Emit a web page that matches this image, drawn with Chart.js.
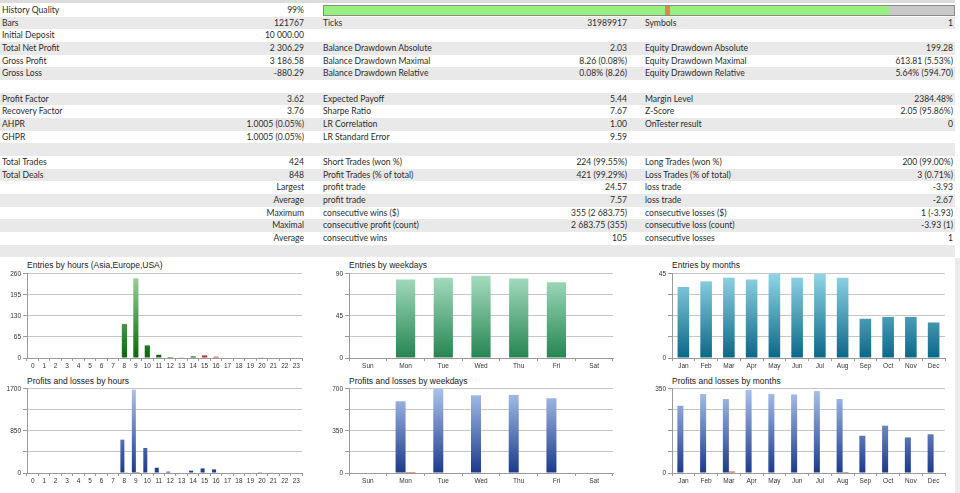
<!DOCTYPE html>
<html>
<head>
<meta charset="utf-8">
<script src="https://cdn.jsdelivr.net/npm/chart.js@4/dist/chart.umd.min.js"></script>
<style>
  html, body { margin: 0; padding: 0; background: #fff; }
  body { width: 960px; height: 493px; position: relative; overflow: hidden; font-family: "Lato", "Noto Sans", sans-serif; color: #2c2c2c; }
  .row { position: absolute; left: 0; width: 955px; height: 12.67px; line-height: 12.67px; font-size: 8.6px; }
  .row span { position: absolute; top: 0; white-space: nowrap; }
  .l1 { left: 2px; } .v1 { right: 651px; }
  .l2 { left: 323px; } .v2 { right: 328px; }
  .l3 { left: 645px; } .v3 { right: 2px; }
  .b { font-weight: 700; }
  .title { position: absolute; font: 8.5px "Liberation Sans", Arial, sans-serif; color: #222; white-space: nowrap; }
  canvas { position: absolute; }
</style>
</head>
<body>
<div id="report"></div>
<div class="title" style="left:27px;top:260px">Entries by hours (Asia,Europe,USA)</div>
<div class="title" style="left:349px;top:260px">Entries by weekdays</div>
<div class="title" style="left:672px;top:260px">Entries by months</div>
<div class="title" style="left:27px;top:376px">Profits and losses by hours</div>
<div class="title" style="left:349px;top:376px">Profits and losses by weekdays</div>
<div class="title" style="left:672px;top:376px">Profits and losses by months</div>
<canvas id="c1" width="310" height="106" style="left:0;top:268px"></canvas>
<canvas id="c2" width="300" height="106" style="left:322px;top:268px"></canvas>
<canvas id="c3" width="311" height="106" style="left:644px;top:268px"></canvas>
<canvas id="c4" width="310" height="106" style="left:0;top:383px"></canvas>
<canvas id="c5" width="300" height="106" style="left:322px;top:383px"></canvas>
<canvas id="c6" width="311" height="106" style="left:644px;top:383px"></canvas>
<script>
// categories
const hours = ["0","1","2","3","4","5","6","7","8","9","10","11","12","13","14","15","16","17","18","19","20","21","22","23"];
const weekdays = ["Sun","Mon","Tue","Wed","Thu","Fri","Sat"];
const months = ["Jan","Feb","Mar","Apr","May","Jun","Jul","Aug","Sep","Oct","Nov","Dec"];

// entries
const entriesHourEurope = [0,0,0,0,0,0,0,0,105,246,39,10,3,2,5,0,0,0,0,0,0,0,0,0];
const entriesHourUsa    = [0,0,0,0,0,0,0,0,0,0,0,0,0,0,0,8,4,0,0,0,2,0,0,0];
const entriesWeekday = [0,84,86,88,85,81,0];
const entriesMonth = [38,41,43,42,45,43,45,43,21,22,22,19];

// profits and losses
const profitHour = [0,0,0,0,0,10,0,0,674,1686,506,107,27,0,47,93,73,10,0,0,15,12,0,0];
const lossHour   = [0,0,0,0,0,0,0,0,6,2,0,0,0,0,0,0,0,0,0,0,0,0,0,0];
const profitWeekday = [0,597,700,647,650,622,0];
const lossWeekday   = [0,8,0,4,0,0,0];
const profitMonth = [280,329,308,346,329,327,341,308,155,197,148,161];
const lossMonth   = [0,0,6,0,0,0,0,4,0,0,0,0];

// axis ticks: [max, grid step, labelled step]
const ticksEntriesHour = [260, 32.5, 65];
const ticksEntriesWeekday = [90, 11.25, 45];
const ticksEntriesMonth = [45, 5.625, 45];
const ticksProfitHour = [1700, 212.5, 850];
const ticksProfitWeekday = [700, 87.5, 350];
const ticksProfitMonth = [350, 43.75, 350];

// report table
const reportRows = [
  ["History Quality", "99%", null, null, null, null],
  ["Bars", "121767", "Ticks", "31989917", "Symbols", "1"],
  ["Initial Deposit", "10 000.00", "", "", "", ""],
  ["Total Net Profit", "2 306.29", "Balance Drawdown Absolute", "2.03", "Equity Drawdown Absolute", "199.28"],
  ["Gross Profit", "3 186.58", "Balance Drawdown Maximal", "8.26 (0.08%)", "Equity Drawdown Maximal", "613.81 (5.53%)"],
  ["Gross Loss", "-880.29", "Balance Drawdown Relative", "0.08% (8.26)", "Equity Drawdown Relative", "5.64% (594.70)"],
  ["", "", "", "", "", ""],
  ["Profit Factor", "3.62", "Expected Payoff", "5.44", "Margin Level", "2384.48%"],
  ["Recovery Factor", "3.76", "Sharpe Ratio", "7.67", "Z-Score", "2.05 (95.86%)"],
  ["AHPR", "1.0005 (0.05%)", "LR Correlation", "1.00", "OnTester result", "0"],
  ["GHPR", "1.0005 (0.05%)", "LR Standard Error", "9.59", "", ""],
  ["", "", "", "", "", ""],
  ["Total Trades", "424", "Short Trades (won %)", "224 (99.55%)", "Long Trades (won %)", "200 (99.00%)"],
  ["Total Deals", "848", "Profit Trades (% of total)", "421 (99.29%)", "Loss Trades (% of total)", "3 (0.71%)"],
  ["", "Largest", "profit trade", "24.57", "loss trade", "-3.93"],
  ["", "Average", "profit trade", "7.57", "loss trade", "-2.67"],
  ["", "Maximum", "consecutive wins ($)", "355 (2 683.75)", "consecutive losses ($)", "1 (-3.93)"],
  ["", "Maximal", "consecutive profit (count)", "2 683.75 (355)", "consecutive loss (count)", "-3.93 (1)"],
  ["", "Average", "consecutive wins", "105", "consecutive losses", "1"],
  ["", "", "", "", "", ""]
];

function buildReport() {
  const report = document.getElementById("report");
  const top = document.createElement("div");
  top.style.cssText = "position:absolute;left:0;top:0;width:955px;height:3px;background:#dcdcdc";
  report.appendChild(top);
  reportRows.forEach((r, i) => {
    const row = document.createElement("div");
    row.className = "row";
    row.style.top = (4 + i * 12.67) + "px";
    row.style.background = i % 2 ? "#e9e9e9" : "#fff";
    const cls = ["l1", "v1", "l2", "v2", "l3", "v3"];
    r.forEach((t, k) => {
      if (t === null || t === "") return;
      const s = document.createElement("span");
      s.className = cls[k];
      s.textContent = t;
      row.appendChild(s);
    });
    if (i === 0) {
      const bar = document.createElement("div");
      bar.style.cssText = "position:absolute;left:323px;top:1px;width:630px;height:9px;border:1px solid #8a8a8a;" +
        "background:linear-gradient(to right,#96ef7f 0,#96ef7f 341px,#d98a4a 341px,#d98a4a 346px,#96ef7f 346px,#96ef7f 565px,#c8c8c8 565px,#c8c8c8 100%)";
      row.appendChild(bar);
    }
    report.appendChild(row);
  });
  const strip = document.createElement("div");
  strip.style.cssText = "position:absolute;left:955px;top:258px;width:5px;height:235px;background:#ececec";
  report.appendChild(strip);
}

function grad(topColor, bottomColor) {
  return ctx => {
    const area = ctx.chart.chartArea;
    if (!area) return bottomColor;
    const g = ctx.chart.ctx.createLinearGradient(0, area.top, 0, area.bottom);
    g.addColorStop(0, topColor);
    g.addColorStop(1, bottomColor);
    return g;
  };
}

function makeChart(id, labels, datasets, ticks, axisW, padRight, stacked) {
  const [max, step, labelStep] = ticks;
  return new Chart(document.getElementById(id), {
    type: "bar",
    data: { labels: labels, datasets: datasets },
    options: {
      responsive: false,
      animation: false,
      layout: { padding: { top: 5, right: padRight, left: 0, bottom: 0 } },
      plugins: { legend: { display: false }, tooltip: { enabled: false } },
      scales: {
        x: {
          stacked: stacked,
          offset: true,
          grid: { offset: true, drawOnChartArea: false, drawTicks: true, tickLength: 3, color: "#9a9a9a" },
          border: { display: true, color: "#9a9a9a" },
          ticks: { autoSkip: false, maxRotation: 0, padding: 1, color: "#333", font: { size: 6.5, family: "Liberation Sans" } },
          afterFit: s => { s.height = 16; }
        },
        y: {
          stacked: stacked,
          min: 0,
          max: max,
          grid: { color: "#c6c6c6", tickLength: 4, tickColor: "#9a9a9a" },
          border: { display: true, color: "#9a9a9a" },
          ticks: {
            stepSize: step,
            padding: 2,
            color: "#333",
            font: { size: 6.5, family: "Liberation Sans" },
            callback: v => {
              const q = v / labelStep;
              return Math.abs(q - Math.round(q)) < 1e-6 ? String(v) : "";
            }
          },
          afterFit: s => { s.width = axisW; }
        }
      }
    }
  });
}

buildReport();

const green = grad("#9dd59d", "#0b680b");
const red = grad("#f08a6a", "#b8321c");
const blue = grad("#aac3ec", "#1b3a8a");

makeChart("c1", hours, [
  { data: entriesHourEurope, backgroundColor: green, barPercentage: 1, categoryPercentage: 0.45 },
  { data: entriesHourUsa, backgroundColor: red, barPercentage: 1, categoryPercentage: 0.45 }
], ticksEntriesHour, 27, 8, true);

makeChart("c2", weekdays, [
  { data: entriesWeekday, backgroundColor: grad("#a8dec2", "#268451"), barPercentage: 1, categoryPercentage: 0.51 }
], ticksEntriesWeekday, 27, 9, false);

makeChart("c3", months, [
  { data: entriesMonth, backgroundColor: grad("#90d5e6", "#0a6787"), barPercentage: 1, categoryPercentage: 0.51 }
], ticksEntriesMonth, 28, 10, false);

makeChart("c4", hours, [
  { data: profitHour, backgroundColor: blue, barPercentage: 1, categoryPercentage: 0.7 },
  { data: lossHour, backgroundColor: red, barPercentage: 1, categoryPercentage: 0.7 }
], ticksProfitHour, 27, 8, false);

makeChart("c5", weekdays, [
  { data: profitWeekday, backgroundColor: blue, barPercentage: 1, categoryPercentage: 0.53 },
  { data: lossWeekday, backgroundColor: red, barPercentage: 1, categoryPercentage: 0.53 }
], ticksProfitWeekday, 27, 9, false);

makeChart("c6", months, [
  { data: profitMonth, backgroundColor: blue, barPercentage: 1, categoryPercentage: 0.53 },
  { data: lossMonth, backgroundColor: red, barPercentage: 1, categoryPercentage: 0.53 }
], ticksProfitMonth, 28, 10, false);
</script>
</body>
</html>
